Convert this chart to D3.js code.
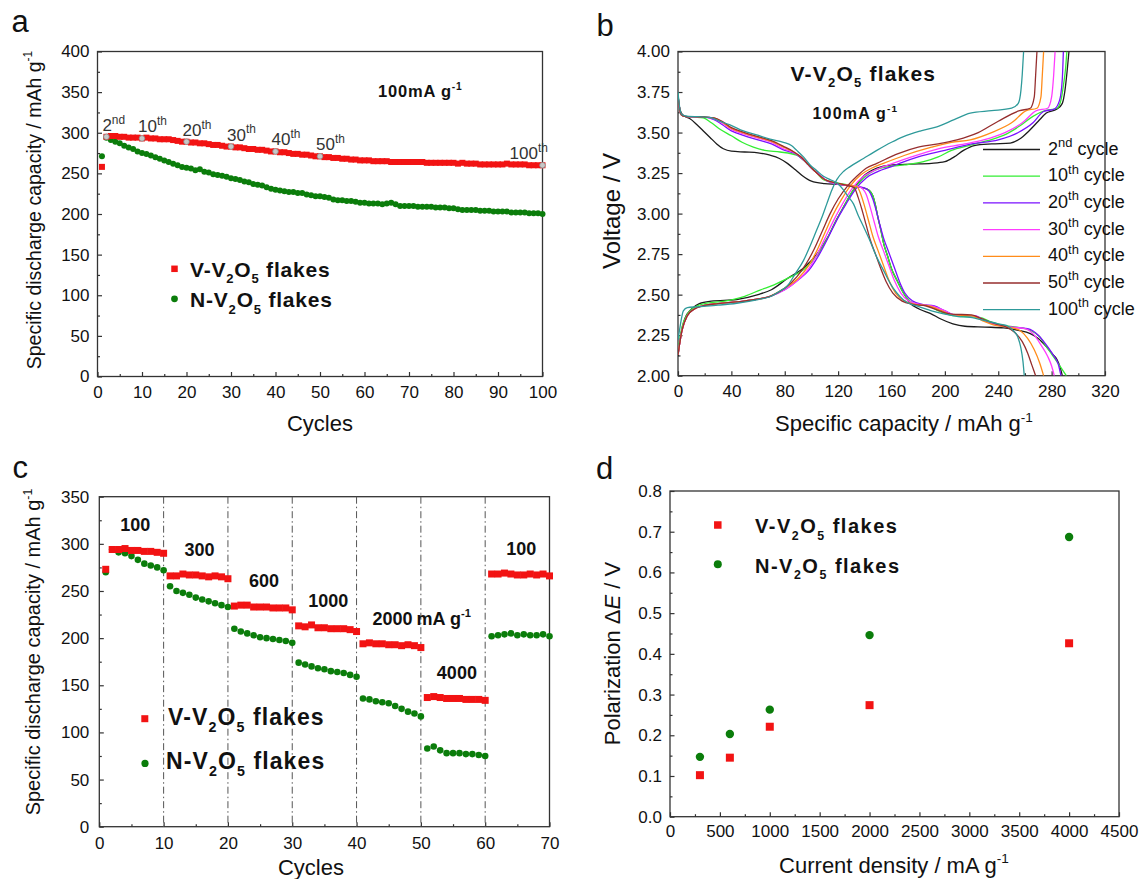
<!DOCTYPE html>
<html>
<head>
<meta charset="utf-8">
<script src="https://cdn.jsdelivr.net/npm/d3@7"></script>
<style>
  body { margin: 0; background: #fff; }
</style>
</head>
<body>
<script>
// ---------- data ----------
// panel a: discharge capacity vs cycle at 100 mA/g (cycles 1..100)
const capV = [258,295,296,296,295,295,294,294,294,293, 294,293,293,292,292,292,291,290,289,289,
  288,288,287,287,286,285,285,284,283,283, 282,282,281,280,280,279,279,278,277,277,
  276,276,275,274,274,273,273,272,271,271, 270,270,269,269,268,268,267,267,266,266,
  266,265,265,265,265,264,264,264,264,264, 264,264,264,263,263,263,263,263,263,263,
  262,263,262,262,262,261,261,261,261,261, 261,262,261,261,261,261,260,260,260,260];
const capN = [271,294,291,289,287,284,282,280,277,275, 274,272,270,268,266,264,262,260,258,257,
  256,254,255,252,251,249,248,247,246,244, 243,242,240,239,237,236,235,233,231,230,
  229,228,227,227,226,226,224,223,222,222, 221,220,218,217,217,216,216,215,214,214,
  213,213,213,212,213,214,212,210,210,210, 210,209,209,209,209,208,208,208,207,207,
  206,205,205,205,205,204,204,204,203,203, 203,203,202,202,202,202,201,201,201,200];
const annotCycles = [2, 10, 20, 30, 40, 50, 100];
const annotLabels = ["2nd", "10th", "20th", "30th", "40th", "50th", "100th"];

// panel b: voltage profiles [capacity, voltage]
const cycleNames = ["2nd", "10th", "20th", "30th", "40th", "50th", "100th"];
const charge2nd = [[0,2.12],[2,2.25],[5,2.35],[10,2.41],[16,2.445],[25,2.46],[44,2.47],[60,2.50],[70,2.53],[82,2.60],[95,2.67],[105,2.76],[112,2.85],[118,2.95],[124,3.04],[131,3.14],[139,3.23],[149,3.28],[160,3.30],[175,3.305],[190,3.31],[200,3.32],[207,3.35],[214,3.39],[222,3.42],[235,3.43],[249,3.435],[256,3.46],[263,3.51],[270,3.57],[276,3.62],[284,3.645],[288,3.68],[290,3.76],[291.5,3.87],[293,4.0]];
const charge10th = [[0,2.15],[3,2.30],[7,2.38],[12,2.42],[20,2.445],[35,2.46],[50,2.49],[62,2.53],[72,2.56],[82,2.60],[95,2.66],[105,2.75],[112,2.85],[118,2.95],[124,3.04],[131,3.14],[139,3.22],[148,3.27],[158,3.29],[170,3.30],[184,3.32],[195,3.35],[205,3.39],[218,3.42],[232,3.45],[246,3.49],[256,3.54],[266,3.60],[275,3.635],[284,3.65],[287,3.70],[289,3.80],[290.5,3.9],[291.4,4.0]];
const charge20th = [[0,2.13],[3,2.28],[7,2.37],[12,2.41],[18,2.43],[30,2.445],[44,2.455],[58,2.47],[69,2.49],[80,2.53],[90,2.59],[98,2.65],[106,2.75],[113,2.86],[119,2.96],[126,3.06],[133,3.15],[141,3.22],[150,3.26],[160,3.29],[166,3.31],[180,3.35],[200,3.39],[220,3.43],[240,3.455],[255,3.50],[266,3.56],[274,3.63],[282,3.645],[286,3.70],[288,3.83],[288.8,4.0]];
const charge30th = [[0,2.13],[3,2.28],[7,2.37],[12,2.41],[18,2.43],[30,2.445],[44,2.455],[58,2.47],[69,2.49],[80,2.53],[90,2.59],[98,2.66],[105,2.76],[112,2.88],[118,2.98],[124,3.07],[131,3.16],[139,3.23],[148,3.27],[161,3.31],[175,3.35],[195,3.40],[215,3.43],[229,3.455],[245,3.50],[258,3.56],[268.6,3.635],[277,3.65],[280,3.72],[281.5,3.85],[282.6,4.0]];
const charge40th = [[0,2.13],[3,2.28],[7,2.37],[12,2.41],[18,2.43],[30,2.445],[44,2.455],[58,2.47],[69,2.49],[80,2.54],[90,2.60],[98,2.68],[104,2.77],[110,2.88],[116,2.99],[122,3.08],[129,3.17],[137,3.24],[145,3.28],[154,3.31],[170,3.36],[190,3.41],[205,3.44],[219,3.455],[235,3.50],[250,3.56],[261,3.635],[269,3.65],[272,3.72],[273,3.85],[274,4.0]];
const charge50th = [[0,2.13],[3,2.28],[7,2.37],[12,2.41],[18,2.43],[30,2.445],[44,2.455],[58,2.47],[69,2.49],[80,2.54],[89,2.61],[96,2.69],[102,2.78],[108,2.89],[114,3.00],[120,3.09],[127,3.17],[134,3.23],[141,3.28],[149,3.31],[165,3.37],[180,3.41],[195,3.43],[209,3.455],[225,3.50],[240,3.57],[256,3.635],[264,3.65],[267,3.72],[268,3.85],[269,4.0]];
const charge100th = [[0,2.22],[1.5,2.30],[4,2.40],[7,2.42],[14,2.425],[30,2.435],[44,2.447],[60,2.47],[69,2.487],[76,2.52],[81.5,2.55],[88,2.63],[94,2.71],[99,2.80],[104,2.90],[108,2.98],[111.5,3.06],[115,3.14],[119,3.21],[124,3.26],[129,3.29],[139,3.34],[149,3.39],[160,3.44],[169,3.475],[182,3.51],[194,3.535],[207,3.58],[219,3.62],[235,3.635],[250,3.65],[255,3.68],[257,3.76],[258,3.86],[259,4.0]];
const discharge2nd = [[0,3.72],[1,3.66],[2.5,3.62],[5,3.60],[9,3.585],[14,3.55],[19,3.51],[24,3.47],[29,3.43],[34,3.40],[40,3.385],[50,3.38],[60,3.375],[69,3.36],[76,3.34],[82,3.31],[88,3.27],[93,3.235],[100,3.20],[110,3.185],[120,3.18],[134,3.166],[142,3.15],[146,3.11],[148,3.05],[150,2.97],[152,2.90],[154,2.82],[157,2.74],[160,2.66],[164,2.59],[169,2.51],[174,2.447],[181,2.41],[189,2.385],[197,2.35],[206,2.32],[215,2.305],[230,2.30],[244,2.295],[255,2.28],[264,2.26],[270,2.23],[276,2.18],[281,2.13],[284,2.10],[286.5,2.05],[288,2.0]];
const discharge10th = [[0,3.74],[1,3.66],[2.5,3.61],[5,3.60],[12,3.595],[19,3.59],[25,3.56],[31.5,3.52],[40,3.48],[48,3.44],[56.5,3.41],[65,3.39],[76.5,3.38],[89,3.36],[94,3.33],[99,3.29],[104,3.25],[109,3.21],[119,3.19],[134,3.166],[142,3.15],[146,3.11],[148,3.05],[150,2.97],[152,2.90],[154,2.82],[157,2.74],[160,2.66],[164,2.59],[169,2.51],[174,2.46],[180,2.44],[188,2.43],[194,2.405],[200,2.385],[206,2.37],[215,2.365],[226,2.36],[235,2.33],[244,2.31],[254,2.30],[264,2.28],[271,2.24],[276,2.18],[282,2.11],[287,2.05],[291,2.0]];
const discharge20th = [[0,3.73],[1,3.66],[2.5,3.61],[5,3.60],[12,3.597],[20,3.595],[27,3.58],[33,3.55],[40,3.51],[50,3.48],[60,3.455],[70,3.43],[80,3.39],[88,3.37],[94,3.33],[100,3.28],[106,3.24],[112,3.20],[121,3.18],[130,3.17],[139,3.16],[143,3.14],[146,3.09],[148.5,3.02],[151,2.94],[154,2.85],[158,2.76],[162,2.67],[166,2.58],[170,2.51],[176,2.46],[183,2.44],[192,2.43],[200,2.40],[207,2.375],[222,2.37],[230,2.34],[240,2.31],[250,2.30],[262,2.29],[270,2.25],[276,2.19],[281,2.13],[285,2.07],[287,2.0]];
const discharge30th = [[0,3.73],[1,3.66],[2.5,3.61],[5,3.60],[12,3.598],[20,3.596],[27,3.585],[33,3.56],[40,3.52],[50,3.49],[60,3.465],[70,3.44],[79,3.40],[86,3.38],[92,3.35],[98,3.30],[104,3.25],[110,3.21],[118,3.185],[128,3.175],[136,3.165],[141,3.12],[144,3.04],[147,2.95],[150,2.86],[154,2.77],[158,2.68],[162,2.59],[167,2.51],[173,2.46],[181,2.44],[190,2.43],[200,2.40],[207,2.375],[222,2.37],[230,2.34],[240,2.31],[250,2.30],[260,2.29],[267,2.25],[272,2.19],[277,2.12],[280,2.06],[282,2.0]];
const discharge40th = [[0,3.73],[1,3.66],[2.5,3.61],[5,3.60],[12,3.598],[20,3.596],[27,3.59],[33,3.565],[40,3.525],[50,3.495],[60,3.47],[70,3.445],[79,3.41],[86,3.385],[92,3.35],[98,3.30],[104,3.25],[110,3.21],[118,3.19],[127,3.175],[134,3.166],[137,3.12],[140,3.04],[143,2.95],[146,2.86],[150,2.77],[154,2.68],[158,2.59],[163,2.51],[170,2.46],[178,2.44],[188,2.43],[198,2.40],[206,2.375],[220,2.37],[228,2.34],[238,2.31],[248,2.30],[256,2.28],[262,2.23],[267,2.16],[271,2.08],[274,2.0]];
const discharge50th = [[0,3.73],[1,3.66],[2.5,3.61],[5,3.60],[12,3.598],[20,3.596],[27,3.59],[33,3.57],[40,3.53],[50,3.50],[60,3.475],[70,3.45],[79,3.415],[86,3.385],[92,3.35],[98,3.30],[104,3.25],[110,3.21],[118,3.19],[126,3.175],[132,3.16],[135,3.10],[138,3.02],[141,2.93],[144,2.84],[148,2.75],[152,2.66],[156,2.58],[161,2.51],[168,2.46],[176,2.44],[186,2.43],[196,2.40],[205,2.38],[220,2.375],[228,2.35],[238,2.32],[246,2.30],[252,2.27],[258,2.21],[262,2.14],[265,2.07],[268,2.0]];
const discharge100th = [[0,3.75],[1,3.67],[3,3.61],[8,3.60],[15,3.598],[24,3.594],[31,3.57],[39,3.547],[49,3.51],[59,3.485],[69,3.46],[79,3.44],[85,3.42],[89,3.39],[94,3.35],[99,3.30],[104,3.265],[109,3.23],[114,3.21],[119,3.19],[124,3.146],[128,3.10],[131.5,3.06],[135,2.99],[139,2.92],[144,2.83],[149,2.73],[154,2.65],[159,2.57],[164,2.51],[169,2.467],[175,2.44],[181,2.425],[190,2.40],[200,2.38],[210,2.365],[219,2.36],[230,2.34],[240,2.32],[246,2.31],[251,2.28],[254.6,2.24],[257,2.17],[258.5,2.09],[259.5,2.0]];

// panel c: rate capability (cycles 1..70)
const rateV = [273,294,294,295,293,293,292,292,291,290, 266,266,268,267,267,266,265,266,265,263,
  234,235,235,233,233,233,232,232,232,230, 213,212,214,211,211,210,210,210,209,207,
  194,195,194,194,193,193,192,193,192,190, 137,138,137,136,136,136,135,135,135,134,
  268,268,269,268,267,267,268,267,268,266];
const rateN = [270,294,291,290,287,283,279,277,275,272, 255,250,248,246,243,241,239,237,235,233,
  210,207,205,203,201,200,199,198,197,195, 174,172,170,168,167,165,164,163,161,159,
  136,135,133,132,131,128,125,122,120,117, 83,85,81,78,78,78,77,77,76,75,
  202,203,204,205,203,204,203,203,204,202];
const rateLabels = ["100", "300", "600", "1000", "2000", "4000", "100"];
const rateBounds = [10, 20, 30, 40, 50, 60];

// panel d: polarization vs current density
const currents = [300, 600, 1000, 2000, 4000];
const polV = [0.102, 0.145, 0.221, 0.274, 0.426];
const polN = [0.147, 0.203, 0.263, 0.446, 0.687];

// ---------- drawing ----------
const FONT = '"Liberation Sans", Arial, Helvetica, sans-serif';
const RED = "#f21313", GRN = "#0b7d0b", INK = "#111";

const svg = d3.select("body").append("svg")
  .attr("width", 1140).attr("height", 879)
  .style("font-family", FONT);

function makePanel(L, R, T, B, xd, yd) {
  const g = svg.append("g").attr("transform", `translate(${L},${T})`);
  const w = R - L, h = B - T;
  const x = d3.scaleLinear().domain(xd).range([0, w]);
  const y = d3.scaleLinear().domain(yd).range([h, 0]);
  return { g, x, y, w, h, L, T };
}

function drawAxes(p, o) {
  const { g, x, y, w, h } = p;
  const style = (sel) => {
    sel.select(".domain").remove();
    sel.selectAll("line").attr("stroke", "#333").attr("stroke-width", 1.2);
    sel.selectAll("text").attr("font-size", 17).attr("fill", INK).attr("font-family", FONT);
  };
  g.append("g").attr("transform", `translate(0,${h})`)
    .call(d3.axisBottom(x).tickValues(o.xMinor).tickSizeInner(-2.5).tickSizeOuter(0).tickFormat(""))
    .call(style);
  g.append("g")
    .call(d3.axisLeft(y).tickValues(o.yMinor).tickSizeInner(-2.5).tickSizeOuter(0).tickFormat(""))
    .call(style);
  g.append("g").attr("transform", `translate(0,${h})`)
    .call(d3.axisBottom(x).tickValues(o.xTicks).tickSizeInner(-4.5).tickSizeOuter(0)
      .tickPadding(o.xPad).tickFormat(o.xFmt || d3.format("d")))
    .call(style);
  g.append("g")
    .call(d3.axisLeft(y).tickValues(o.yTicks).tickSizeInner(-4.5).tickSizeOuter(0)
      .tickPadding(o.yPad).tickFormat(o.yFmt || d3.format("d")))
    .call(style);
  g.append("rect").attr("width", w).attr("height", h)
    .attr("fill", "none").attr("stroke", "#333").attr("stroke-width", 1.3);
}

// text with sub/superscripts; parts are strings or [text, "sub"|"sup"|"it"]
function rich(x, y, parts, size, o = {}) {
  const t = svg.append("text").attr("x", x).attr("y", y)
    .attr("font-size", size).attr("fill", o.fill || INK)
    .attr("font-weight", o.bold ? "bold" : null)
    .attr("text-anchor", o.anchor || "start")
    .attr("letter-spacing", o.ls || null);
  if (o.rotate) t.attr("transform", `rotate(-90,${x},${y})`);
  let cur = 0;
  parts.forEach((p) => {
    const [s, k] = Array.isArray(p) ? p : [p, ""];
    const small = k === "sub" || k === "sup";
    const off = k === "sup" ? -0.42 * size : k === "sub" ? 0.32 * size : 0;
    const ts = t.append("tspan").attr("dy", off - cur)
      .attr("font-size", small ? size * (o.supScale || 0.62) : size).text(s);
    if (k === "it") ts.attr("font-style", "italic");
    cur = off;
  });
  return t;
}

const VV = ["V-V", ["2", "sub"], "O", ["5", "sub"], " flakes"];
const NV = ["N-V", ["2", "sub"], "O", ["5", "sub"], " flakes"];

function square(g, cx, cy, s, fill) {
  g.append("rect").attr("x", cx - s / 2).attr("y", cy - s / 2)
    .attr("width", s).attr("height", s).attr("fill", fill);
}

// ===== panel a =====
const pa = makePanel(97.5, 542.5, 51.5, 376.5, [0, 100], [0, 400]);
drawAxes(pa, {
  xTicks: d3.range(0, 101, 10), xMinor: d3.range(5, 100, 10),
  yTicks: d3.range(0, 401, 50), yMinor: d3.range(25, 400, 50),
  xPad: 9, yPad: 8
});
pa.g.selectAll(".n").data(capN).enter().append("circle")
  .attr("cx", (d, i) => pa.x(i + 1)).attr("cy", (d) => pa.y(d))
  .attr("r", 3).attr("fill", GRN);
pa.g.selectAll(".v").data(capV).enter().append("rect")
  .attr("x", (d, i) => pa.x(i + 1) - 3).attr("y", (d) => pa.y(d) - 3)
  .attr("width", 6).attr("height", 6).attr("fill", RED);
annotCycles.forEach((c, i) => {
  const cx = pa.x(c), cy = pa.y(capV[c - 1]);
  pa.g.append("circle").attr("cx", cx).attr("cy", cy).attr("r", 2.8)
    .attr("fill", "#c8c8c8").attr("stroke", "#8a8a8a").attr("stroke-width", 0.8);
  const m = annotLabels[i].match(/(\d+)(\D+)/);
  const last = i === annotCycles.length - 1;
  rich(pa.L + cx + (last ? -33 : -4), pa.T + cy - 6, [m[1], [m[2], "sup"]], 17, { fill: "#333", supScale: 0.7 });
});
rich(378, 97, ["100mA g", ["-1", "sup"]], 16.5, { bold: true, ls: 0.8 });
square(svg, 174.5, 268.8, 6.5, RED);
svg.append("circle").attr("cx", 174.5).attr("cy", 298.8).attr("r", 3.4).attr("fill", GRN);
rich(190, 276.5, VV, 21, { bold: true, ls: 0.8 });
rich(190, 307, NV, 21, { bold: true, ls: 0.8 });
rich(40.5, 210, ["Specific discharge capacity / mAh g", ["-1", "sup"]], 19.5, { anchor: "middle", rotate: true });
rich(320, 431, ["Cycles"], 22, { anchor: "middle" });
rich(11.5, 32, ["a"], 31);

// ===== panel b =====
const pb = makePanel(678, 1105, 51.5, 375.7, [0, 320], [2, 4]);
drawAxes(pb, {
  xTicks: d3.range(0, 321, 40), xMinor: d3.range(20, 320, 40),
  yTicks: d3.range(2, 4.001, 0.25), yMinor: d3.range(2.125, 4, 0.25),
  xPad: 9, yPad: 8, yFmt: d3.format(".2f")
});
svg.append("defs").append("clipPath").attr("id", "clipb")
  .append("rect").attr("width", pb.w).attr("height", pb.h);
const cycleColors = ["#1c1c1c", "#33ee33", "#7a10ff", "#ff3cff", "#ff8c1a", "#962e2e", "#2e9a9a"];
const chargeSets = [charge2nd, charge10th, charge20th, charge30th, charge40th, charge50th, charge100th];
const dischargeSets = [discharge2nd, discharge10th, discharge20th, discharge30th, discharge40th, discharge50th, discharge100th];
const lineB = d3.line().x((d) => pb.x(d[0])).y((d) => pb.y(d[1])).curve(d3.curveMonotoneX);
const curvesB = pb.g.append("g").attr("clip-path", "url(#clipb)");
cycleNames.forEach((n, i) => {
  [chargeSets[i], dischargeSets[i]].forEach((pts) => {
    curvesB.append("path").datum(pts).attr("d", lineB)
      .attr("fill", "none").attr("stroke", cycleColors[i]).attr("stroke-width", 1.3);
  });
});
cycleNames.forEach((n, i) => {
  const ly = 149.5 + i * 26.7;
  svg.append("line").attr("x1", 983).attr("x2", 1040).attr("y1", ly).attr("y2", ly)
    .attr("stroke", cycleColors[i]).attr("stroke-width", 1.3);
  const m = n.match(/(\d+)(\D+)/);
  rich(1048, ly + 5, [m[1], [m[2], "sup"], " cycle"], 18, { supScale: 0.72 });
});
rich(790.5, 80.5, VV, 21, { bold: true, ls: 1.2 });
rich(812.5, 119, ["100mA g", ["-1", "sup"]], 16, { bold: true, ls: 1.2 });
rich(620, 211, ["Voltage / V"], 24, { anchor: "middle", rotate: true });
rich(904, 431, ["Specific capacity / mAh g", ["-1", "sup"]], 22, { anchor: "middle" });
rich(596.5, 35.5, ["b"], 31);

// ===== panel c =====
const pc = makePanel(99.3, 549.5, 496.7, 826.7, [0, 70], [0, 350]);
drawAxes(pc, {
  xTicks: d3.range(0, 71, 10), xMinor: d3.range(5, 70, 10),
  yTicks: d3.range(0, 351, 50), yMinor: d3.range(25, 350, 50),
  xPad: 10, yPad: 10
});
pc.g.selectAll(".vb").data(rateBounds).enter().append("line")
  .attr("x1", (d) => pc.x(d)).attr("x2", (d) => pc.x(d))
  .attr("y1", 0).attr("y2", pc.h)
  .attr("stroke", "#555").attr("stroke-width", 1)
  .attr("stroke-dasharray", "7,3,1.5,3");
pc.g.selectAll(".n").data(rateN).enter().append("circle")
  .attr("cx", (d, i) => pc.x(i + 1)).attr("cy", (d) => pc.y(d))
  .attr("r", 3.3).attr("fill", GRN);
pc.g.selectAll(".v").data(rateV).enter().append("rect")
  .attr("x", (d, i) => pc.x(i + 1) - 3.5).attr("y", (d) => pc.y(d) - 3.5)
  .attr("width", 7).attr("height", 7).attr("fill", RED);
rateLabels.forEach((lab, i) => {
  const seg = rateV.slice(i * 10, i * 10 + 10);
  const cx = pc.L + pc.x(i * 10 + 5.6);
  const cy = pc.T + pc.y(d3.max(seg)) - 24 + 6;
  const t = rich(cx, cy, [lab], 18, { bold: true, anchor: "middle" });
  if (lab === "2000") {
    const bb = t.node().getBBox();
    rich(bb.x + bb.width + 4, cy, ["mA g", ["-1", "sup"]], 18, { bold: true });
  }
});
square(svg, 144.8, 718.7, 7, RED);
svg.append("circle").attr("cx", 145).attr("cy", 763.4).attr("r", 3.6).attr("fill", GRN);
rich(168, 725, VV, 23, { bold: true, ls: 1.1 });
rich(166, 768.5, NV, 23, { bold: true, ls: 1.1 });
rich(40.4, 652, ["Specific discharge capacity / mAh g", ["-1", "sup"]], 20, { anchor: "middle", rotate: true });
rich(311, 875, ["Cycles"], 22, { anchor: "middle" });
rich(12.5, 478, ["c"], 31);

// ===== panel d =====
const pd = makePanel(670, 1119, 491, 816.7, [0, 4500], [0, 0.8]);
drawAxes(pd, {
  xTicks: d3.range(0, 4501, 500), xMinor: d3.range(250, 4500, 500),
  yTicks: d3.range(0, 0.801, 0.1), yMinor: d3.range(0.05, 0.8, 0.1),
  xPad: 8.5, yPad: 8, yFmt: d3.format(".1f")
});
pd.g.selectAll(".v").data(polV).enter().append("rect")
  .attr("x", (d, i) => pd.x(currents[i]) - 4).attr("y", (d) => pd.y(d) - 4)
  .attr("width", 8).attr("height", 8).attr("fill", RED);
pd.g.selectAll(".n").data(polN).enter().append("circle")
  .attr("cx", (d, i) => pd.x(currents[i])).attr("cy", (d) => pd.y(d))
  .attr("r", 4.2).attr("fill", GRN);
square(svg, 717.8, 525, 7.5, RED);
svg.append("circle").attr("cx", 717.8).attr("cy", 564.3).attr("r", 4).attr("fill", GRN);
rich(755, 533.3, VV, 20, { bold: true, ls: 1.5 });
rich(755, 572.7, NV, 20, { bold: true, ls: 1.5 });
rich(620, 653.5, ["Polarization ", ["\u0394", ""], ["E", "it"], " / V"], 22, { anchor: "middle", rotate: true });
rich(894, 872.5, ["Current density / mA g", ["-1", "sup"]], 22, { anchor: "middle" });
rich(596, 479.4, ["d"], 31);
</script>
</body>
</html>
